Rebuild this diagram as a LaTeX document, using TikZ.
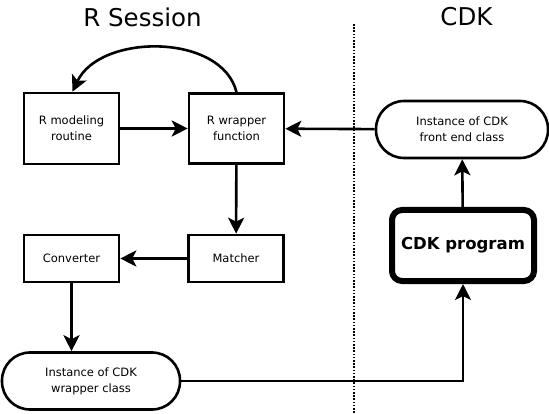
\documentclass[tikz,border=0pt]{standalone}
\usepackage{fontspec}
\setmainfont{DejaVu Sans}
\usetikzlibrary{arrows.meta}
\begin{document}
\begin{tikzpicture}[x=1pt,y=-1pt,
  box/.style={draw,line width=2.6pt,minimum width=95pt,align=center,font=\fontsize{11.5}{16}\selectfont,inner sep=1pt},
  pill/.style={draw,line width=2.6pt,rounded corners=28pt,minimum height=57pt,align=center,font=\fontsize{11.5}{16}\selectfont},
  arr/.style={line width=2.6pt,-{Stealth[length=16pt,width=16pt,inset=4pt]}},
  title/.style={font=\fontsize{24.5}{29}\selectfont}]
\useasboundingbox (0,0) rectangle (549,414);
\node[title] (t1) at (142.5,17) {R Session};
\node[title] (t2) at (466.5,17) {CDK};
\coordinate (dtop) at (353.5,24);
\coordinate (dbot) at (353.5,414);
\draw[line width=2pt,dash pattern=on 1.6pt off 1.6pt] (dtop) -- (dbot);
\node[box,minimum height=71pt] (rmod) at (71.5,128.5) {R modeling\\routine};
\node[box,minimum height=70pt] (rwrap) at (236.5,128.5) {R wrapper\\function};
\node[pill,minimum width=172pt] (front) at (462,129.5) {Instance of CDK\\front end class};
\node[box,minimum height=47pt] (match) at (236,258.5) {Matcher};
\node[box,minimum height=47pt] (conv) at (71.5,258.5) {Converter};
\node[draw,line width=6pt,rounded corners=10pt,minimum width=142pt,minimum height=71pt,font=\fontsize{16.5}{20}\selectfont\bfseries] (cdk) at (463,245.5) {CDK program};
\node[pill,minimum width=178pt] (wcls) at (91,381) {Instance of CDK\\wrapper class};
\draw[arr] (rmod) -- (rwrap);
\draw[arr] (front) -- (rwrap);
\draw[arr] (rwrap) -- (match);
\draw[arr] (match) -- (conv);
\draw[arr] (conv) -- (wcls.north -| conv);
\draw[arr] (wcls.east) -| (cdk.south);
\draw[arr] (cdk) -- (front);
\draw[arr] (rwrap.north) .. controls (222,33) and (100,33) .. ([xshift=1pt]rmod.north);
\end{tikzpicture}
\end{document}
